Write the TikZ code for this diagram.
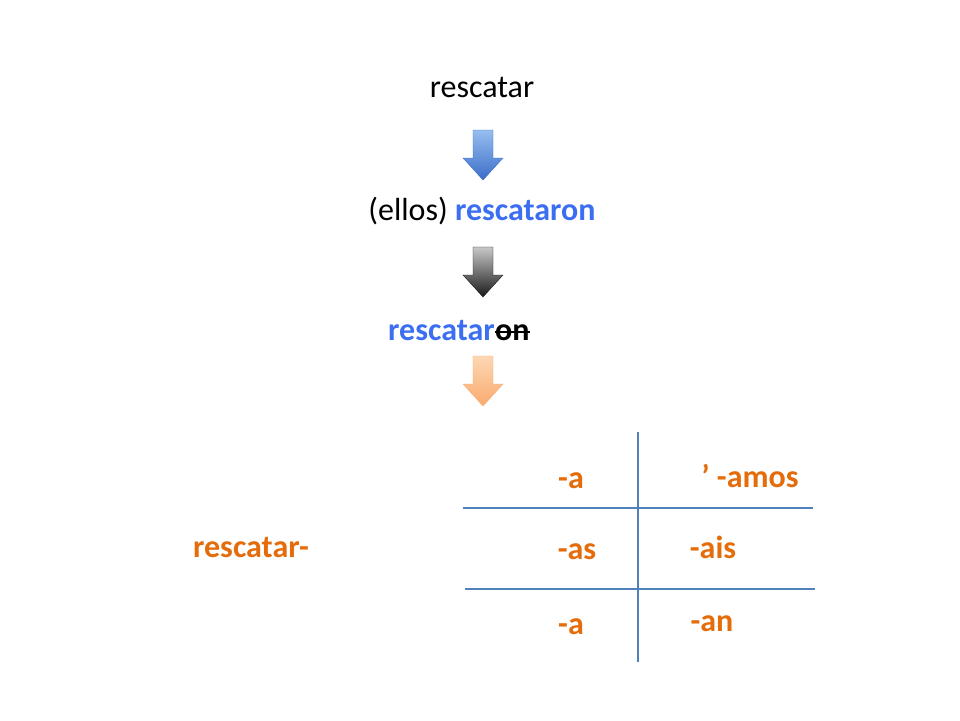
\documentclass[tikz,border=0pt]{standalone}
\usepackage{fontspec}
\setmainfont{Carlito}
\definecolor{vblue}{RGB}{59,110,240}
\definecolor{vorange}{RGB}{228,108,10}
\definecolor{tline}{RGB}{79,129,189}
\definecolor{atopblue}{RGB}{150,190,240}
\definecolor{abotblue}{RGB}{60,110,200}
\definecolor{atopgray}{RGB}{200,200,200}
\definecolor{abotgray}{RGB}{25,25,25}
\definecolor{atoporange}{RGB}{253,215,180}
\definecolor{abotorange}{RGB}{250,170,110}
\begin{document}
\begin{tikzpicture}[x=1pt, y=-1pt,
  word/.style={font=\fontsize{32}{36}\selectfont, inner sep=0pt},
  ending/.style={word, text=vorange, font=\fontsize{32}{36}\selectfont\bfseries},
  grid/.style={tline, line width=2pt}]
  \useasboundingbox (0,0) rectangle (960,720);
  \newcommand{\blockarrow}[4]{% x, top, from colour, to colour
    \shade[top color=#3, bottom color=#4, draw=#4, line width=0.4pt]
      (#1-10,#2) -- (#1+10,#2) -- (#1+10,#2+28) -- (#1+20,#2+28) -- (#1,#2+50)
      -- (#1-20,#2+28) -- (#1-10,#2+28) -- cycle;}

  \node[word] (inf) at (482,87) {rescatar};
  \node[word] (pret) at (482,211) {(ellos) \textcolor{vblue}{\textbf{rescataron}}};
  \node[word, text=vblue, font=\fontsize{32}{36}\selectfont\bfseries, anchor=base west] (stem) at (388,340) {rescatar};
  \node[word, font=\fontsize{32}{36}\selectfont\bfseries, anchor=base west] (cut) at (stem.base east) {on};
  \path (cut.base west) ++(0,-8) coordinate (cutl);
  \path (cut.base east) ++(0,-8) coordinate (cutr);
  \draw[line width=1.6pt] (cutl) -- (cutr);

  \blockarrow{483}{130}{atopblue}{abotblue}
  \blockarrow{483}{247}{atopgray}{abotgray}
  \blockarrow{483}{356}{atoporange}{abotorange}

  \node[ending] (base) at (251,548) {rescatar-};
  \node[ending] (s1) at (571,481) {-a};
  \node[ending] (s2) at (577,552) {-as};
  \node[ending] (s3) at (571,627) {-a};
  \node[ending] (p1) at (750,476) {' -amos};
  \node[ending] (p2) at (713,547) {-ais};
  \node[ending] (p3) at (712,624) {-an};

  \coordinate (vt) at (638,432);
  \coordinate (vb) at (638,662);
  \coordinate (h1l) at (463,508);
  \coordinate (h1r) at (813,508);
  \coordinate (h2l) at (465,589);
  \coordinate (h2r) at (815,589);
  \draw[grid] (vt) -- (vb);
  \draw[grid] (h1l) -- (h1r);
  \draw[grid] (h2l) -- (h2r);
\end{tikzpicture}
\end{document}
